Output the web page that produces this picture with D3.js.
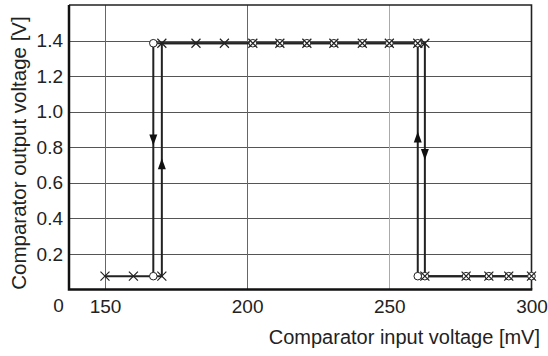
<!DOCTYPE html>
<html lang="en">
  <head>
    <meta charset="UTF-8" />
    <title>Comparator hysteresis</title>
    <style>
      body { margin: 0; background: #fff; }
      text { font-family: "Liberation Sans", Arial, sans-serif; fill: #222; }
    </style>
  </head>
  <body>
    <svg id="svg" width="548" height="356"></svg>
    <script src="https://cdn.jsdelivr.net/npm/d3@7"></script>
    <script>
      // sweep up (x markers) and sweep down (o markers)
      const upX = [150, 160, 170, 170, 182, 192, 202, 211.5, 221, 230.5, 240.5, 250, 260, 262.5, 262.5, 277, 285, 292, 300];
      const upY = [0.075, 0.075, 0.075, 1.385, 1.385, 1.385, 1.385, 1.385, 1.385, 1.385, 1.385, 1.385, 1.385, 1.385, 0.075, 0.075, 0.075, 0.075, 0.075];
      const downX = [300, 292, 285, 277, 262.5, 260, 260, 250, 240.5, 230.5, 221, 211.5, 202, 167, 167];
      const downY = [0.075, 0.075, 0.075, 0.075, 0.075, 0.075, 1.385, 1.385, 1.385, 1.385, 1.385, 1.385, 1.385, 1.385, 0.075];

      // direction arrows on the vertical segments (y = tip)
      const arrowX = [167, 170, 260, 262.5];
      const arrowY = [0.81, 0.738, 0.888, 0.728];
      const arrowDir = ["down", "up", "up", "down"];

      const xTicks = [150, 200, 250, 300];
      const yTicks = [0.2, 0.4, 0.6, 0.8, 1.0, 1.2, 1.4];

      const mLeft = 69, mRight = 531.5, mTop = 5, mBottom = 289.5;

      const svg = d3.select("#svg");

      const x = d3.scaleLinear().domain([137.35, 300]).range([mLeft, mRight]);
      const y = d3.scaleLinear().domain([0, 1.6]).range([mBottom, mTop]);

      // grid
      const grid = svg.append("g");
      grid.selectAll(".gy")
        .data(yTicks)
        .enter()
        .append("line")
        .attr("x1", mLeft).attr("x2", mRight)
        .attr("y1", (d) => Math.round(y(d)) + 0.5)
        .attr("y2", (d) => Math.round(y(d)) + 0.5)
        .attr("stroke", "#555")
        .attr("stroke-width", 1);
      grid.selectAll(".gx")
        .data(xTicks.slice(0, 3))
        .enter()
        .append("line")
        .attr("x1", (d) => Math.round(x(d)) + 0.5)
        .attr("x2", (d) => Math.round(x(d)) + 0.5)
        .attr("y1", mTop).attr("y2", mBottom)
        .attr("stroke", (d) => (d === 250 ? "#aaa" : "#666"))
        .attr("stroke-width", 1);

      // axes (labels only)
      const xAxis = svg.append("g")
        .attr("transform", `translate(0,${mBottom})`)
        .call(d3.axisBottom(x).tickValues(xTicks).tickSize(0).tickPadding(10).tickFormat(d3.format("d")));
      const yAxis = svg.append("g")
        .attr("transform", `translate(${mLeft},0)`)
        .call(d3.axisLeft(y).tickValues(yTicks).tickSize(0).tickPadding(6).tickFormat(d3.format(".1f")));
      [xAxis, yAxis].forEach((a) => {
        a.select(".domain").remove();
        a.selectAll("text")
          .style("font-family", '"Liberation Sans", Arial, sans-serif')
          .style("font-size", "19px")
          .attr("fill", "#222");
      });

      svg.append("text")
        .attr("x", 58.5).attr("y", 312)
        .attr("text-anchor", "middle")
        .style("font-size", "19px")
        .text("0");

      // frame
      svg.append("path")
        .attr("d", `M${mLeft},${mTop}H${mRight}V${mBottom}`)
        .attr("fill", "none").attr("stroke", "#222").attr("stroke-width", 1.6);
      svg.append("path")
        .attr("d", `M${mLeft},${mTop}V${mBottom}H${mRight + 0.8}`)
        .attr("fill", "none").attr("stroke", "#111").attr("stroke-width", 2.5);

      // lines
      const line = d3.line().x((d) => x(d[0])).y((d) => y(d[1]));
      const upPts = d3.zip(upX, upY);
      const downPts = d3.zip(downX, downY);
      svg.append("path").datum(upPts).attr("d", line)
        .attr("fill", "none").attr("stroke", "#222").attr("stroke-width", 2);
      svg.append("path").datum(downPts).attr("d", line)
        .attr("fill", "none").attr("stroke", "#222").attr("stroke-width", 2);

      // arrows
      svg.selectAll(".arrow")
        .data(d3.zip(arrowX, arrowY, arrowDir))
        .enter()
        .append("path")
        .attr("d", (d) => {
          const px = x(d[0]), py = y(d[1]);
          const h = d[2] === "up" ? 11 : -11;
          return `M${px},${py}L${px - 4},${py + h}L${px + 4},${py + h}Z`;
        })
        .attr("fill", "#111");

      // circle markers
      svg.selectAll(".dot")
        .data(downPts)
        .enter()
        .append("circle")
        .attr("cx", (d) => x(d[0]))
        .attr("cy", (d) => y(d[1]))
        .attr("r", 3.8)
        .attr("fill", "#fff")
        .attr("stroke", "#222")
        .attr("stroke-width", 1);

      // cross markers
      svg.selectAll(".cross")
        .data(upPts)
        .enter()
        .append("path")
        .attr("d", (d) => {
          const px = x(d[0]), py = y(d[1]);
          return `M${px - 4.5},${py - 4.5}L${px + 4.5},${py + 4.5}M${px - 4.5},${py + 4.5}L${px + 4.5},${py - 4.5}`;
        })
        .attr("stroke", "#222")
        .attr("stroke-width", 1.2)
        .attr("fill", "none");

      // axis titles
      svg.append("text")
        .attr("x", 540).attr("y", 344)
        .attr("text-anchor", "end")
        .style("font-size", "20px")
        .text("Comparator input voltage [mV]");
      svg.append("text")
        .attr("transform", "translate(26,153) rotate(-90)")
        .attr("text-anchor", "middle")
        .style("font-size", "20.5px")
        .text("Comparator output voltage [V]");
    </script>
  </body>
</html>
